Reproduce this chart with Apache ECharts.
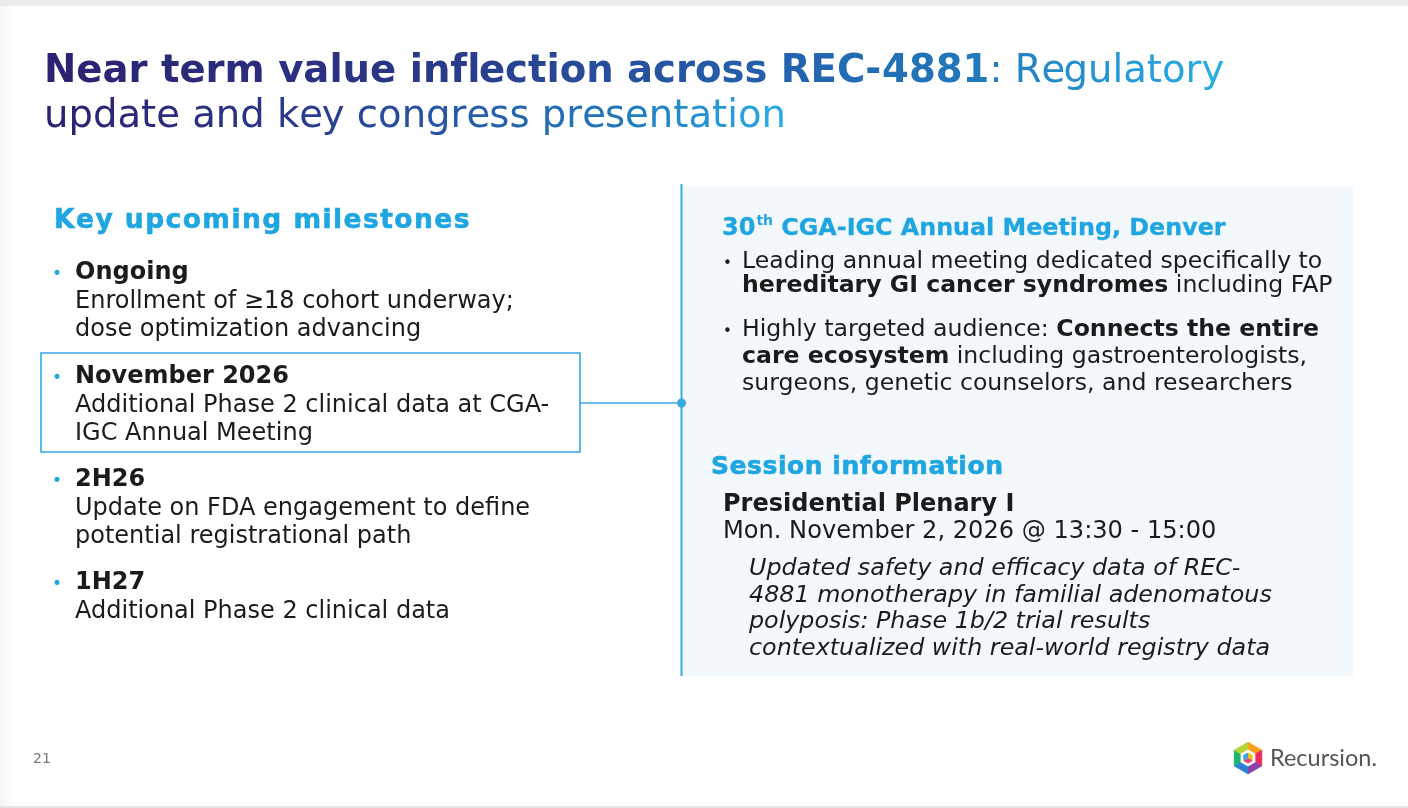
<!DOCTYPE html>
<html><head><meta charset="utf-8">
<script src="https://cdn.jsdelivr.net/npm/echarts@6/dist/echarts.min.js"></script>
<style>html,body{margin:0;padding:0;background:#fff}#c{width:1408px;height:808px}</style>
</head><body><div id="c"></div>
<script>
// ---------- content ----------
const titleLine1Bold = 'Near term value inflection across REC-4881';
const titleLine1Rest = ': Regulatory';
const titleLine2 = 'update and key congress presentation';
const leftHeader = 'Key upcoming milestones';
const milestoneDates = ['Ongoing', 'November 2026', '2H26', '1H27'];
const milestoneLines = [
  ['Enrollment of \u226518 cohort underway;', 'dose optimization advancing'],
  ['Additional Phase 2 clinical data at CGA-', 'IGC Annual Meeting'],
  ['Update on FDA engagement to define', 'potential registrational path'],
  ['Additional Phase 2 clinical data']
];
const meetingOrdinal = ['30', 'th'];
const meetingTitle = ' CGA-IGC Annual Meeting, Denver';
const meetingBullets = [
  [[{t:'Leading annual meeting dedicated specifically to'}],
   [{t:'hereditary GI cancer syndromes', w:'bold'}, {t:' including FAP'}]],
  [[{t:'Highly targeted audience: '}, {t:'Connects the entire', w:'bold'}],
   [{t:'care ecosystem', w:'bold'}, {t:' including gastroenterologists,'}],
   [{t:'surgeons, genetic counselors, and researchers'}]]
];
const sessionHeader = 'Session information';
const sessionName = 'Presidential Plenary I';
const sessionTime = 'Mon. November 2, 2026 @ 13:30 - 15:00';
const sessionAbstract = [
  'Updated safety and efficacy data of REC-',
  '4881 monotherapy in familial adenomatous',
  'polyposis: Phase 1b/2 trial results',
  'contextualized with real-world registry data'
];
const pageNumber = '21';
const brandName = 'Recursion.';

// ---------- helpers ----------
const FONT = '"DejaVu Sans", Verdana, sans-serif';
const BODY = '#1b1b1b';
const BLUE = '#1fa6e0';
const mctx = document.createElement('canvas').getContext('2d');
function fontStr(size, w, it, fam) { return (it ? 'italic ' : 'normal ') + (w || 'normal') + ' ' + size + 'px ' + (fam || FONT); }
function measure(t, size, w, it, fam) { mctx.font = fontStr(size, w, it, fam); return mctx.measureText(t).width; }
const els = [];
function txt(x, y, t, size, o) {
  o = o || {};
  const st = {text: t, fontSize: size, fontFamily: o.fam || FONT, fontWeight: o.w || 'normal',
      fontStyle: o.i ? 'italic' : 'normal', fill: o.c || BODY, verticalAlign: 'middle', align: 'left'};
  if (o.sw) { st.stroke = o.c || BODY; st.lineWidth = o.sw; }
  els.push({type: 'text', x: x, y: y, z: 10, silent: true, style: st});
}
function segs(x, y, parts, size, base) {
  let cx = x;
  parts.forEach(p => {
    const o = Object.assign({}, base || {}, p);
    txt(cx, y, p.t, size, o);
    cx += measure(p.t, size, o.w, o.i);
  });
  return cx;
}
function hex2rgb(h) { return [parseInt(h.substr(1,2),16), parseInt(h.substr(3,2),16), parseInt(h.substr(5,2),16)]; }
const stops = [[0,'#2a2270'],[0.3,'#2b3585'],[0.55,'#2658a6'],[0.78,'#2178bb'],[1,'#2aaee5']];
function gradColor(t) {
  t = Math.max(0, Math.min(1, t));
  for (let i = 1; i < stops.length; i++) {
    if (t <= stops[i][0]) {
      const a = stops[i-1], b = stops[i];
      const f = (t - a[0]) / (b[0] - a[0]);
      const ca = hex2rgb(a[1]), cb = hex2rgb(b[1]);
      return 'rgb(' + ca.map((v, k) => Math.round(v + (cb[k] - v) * f)).join(',') + ')';
    }
  }
  return stops[stops.length-1][1];
}
function gradLine(x, y, runs, size) {
  let total = 0;
  runs.forEach(r => total += measure(r.t, size, r.w));
  let off = 0;
  runs.forEach(r => {
    for (let i = 0; i < r.t.length; i++) {
      const px = measure(r.t.slice(0, i), size, r.w);
      const cw = measure(r.t[i], size, r.w);
      const cx = x + off + px;
      if (r.t[i] !== ' ') txt(cx, y, r.t[i], size, {w: r.w, c: gradColor((cx + cw / 2 - x) / total)});
    }
    off += measure(r.t, size, r.w);
  });
}
function spaced(x, y, str, size, targetW, o) {
  const natural = measure(str, size, o.w);
  const sp = (targetW - natural) / (str.length - 1);
  let cx = x;
  for (let i = 0; i < str.length; i++) {
    if (str[i] !== ' ') txt(cx, y, str[i], size, o);
    cx += measure(str[i], size, o.w) + sp;
  }
}

// ---------- background & frame ----------
els.push({type: 'rect', shape: {x: 0, y: 0, width: 1408, height: 6}, style: {fill: '#ececec'}, z: 1});
els.push({type: 'rect', shape: {x: 0, y: 806, width: 1408, height: 2}, style: {fill: '#e4e4e4'}, z: 1});
els.push({type: 'rect', shape: {x: 0, y: 6, width: 14, height: 800},
  style: {fill: new echarts.graphic.LinearGradient(0, 0, 1, 0, [{offset: 0, color: 'rgba(0,0,0,0.035)'}, {offset: 1, color: 'rgba(0,0,0,0)'}])}, z: 1});

// ---------- title ----------
gradLine(44, 72, [{t: titleLine1Bold, w: 'bold'}, {t: titleLine1Rest, w: 'normal'}], 38.6);
gradLine(44, 117, [{t: titleLine2, w: 'normal'}], 38.6);

// ---------- left column ----------
spaced(54, 221, leftHeader, 26.5, 415, {w: 'bold', c: BLUE, sw: 0.6});
const dateY = [273, 377, 480, 583];
const LH = 28.5;
const BS = 24;
milestoneDates.forEach((d, k) => {
  const y0 = dateY[k];
  txt(52, y0 + 2, '\u2022', 17, {c: BLUE});
  txt(75, y0, d, BS, {w: 'bold'});
  milestoneLines[k].forEach((ln, j) => txt(75, y0 + LH * (j + 1), ln, BS));
});
els.push({type: 'rect', shape: {x: 41, y: 353, width: 539, height: 99}, style: {fill: 'none', stroke: '#36a9e1', lineWidth: 1.6}, z: 5});
els.push({type: 'line', shape: {x1: 580, y1: 403, x2: 681, y2: 403}, style: {stroke: '#36a9e1', lineWidth: 1.6}, z: 5});
els.push({type: 'line', shape: {x1: 681.5, y1: 184, x2: 681.5, y2: 676}, style: {stroke: '#36a9e1', lineWidth: 2}, z: 6});
els.push({type: 'circle', shape: {cx: 681.5, cy: 403, r: 4.5}, style: {fill: '#36a9e1'}, z: 7});

// ---------- right panel ----------
els.push({type: 'rect', shape: {x: 683, y: 186, width: 670, height: 490}, style: {fill: '#f3f8fc'}, z: 2});
let cx = 722;
txt(cx, 229, meetingOrdinal[0], 24, {w: 'bold', c: BLUE, sw: 0.3});
cx += measure(meetingOrdinal[0], 24, 'bold');
txt(cx + 1, 221, meetingOrdinal[1], 14, {w: 'bold', c: BLUE});
cx += measure(meetingOrdinal[1], 14, 'bold') + 1;
txt(cx, 229, meetingTitle, 23.8, {w: 'bold', c: BLUE, sw: 0.3});

const bulletY = [[262, 286], [330, 357, 384]];
meetingBullets.forEach((b, k) => {
  txt(723, bulletY[k][0] + 2, '\u2022', 15, {c: BODY});
  b.forEach((ln, j) => segs(742, bulletY[k][j], ln, 23.6));
});
spaced(711, 467, sessionHeader, 25, 292, {w: 'bold', c: BLUE, sw: 0.6});
txt(723, 505, sessionName, BS, {w: 'bold'});
txt(723, 532, sessionTime, 24.1);
const absY = [569, 596, 622, 649];
sessionAbstract.forEach((ln, j) => txt(749, absY[j], ln, 23.8, {i: true}));

// ---------- footer ----------
txt(33, 759, pageNumber, 14, {c: '#7a7a7a'});
txt(1270, 758, brandName, 23.5, {c: '#555555', fam: 'Lato, "Open Sans", sans-serif'});
const LX = 1248, LY = 758, R = 16;
const segCols = ['#f7a21b', '#ec2a5b', '#8b3fa8', '#2c7fd4', '#1eb36a', '#b5d334'];
for (let i = 0; i < 6; i++) {
  const a1 = (-90 + 60 * i) * Math.PI / 180, a2 = (-30 + 60 * i) * Math.PI / 180;
  els.push({type: 'polygon', z: 8, shape: {points: [[LX, LY], [LX + R * Math.cos(a1), LY + R * Math.sin(a1)], [LX + R * Math.cos(a2), LY + R * Math.sin(a2)]]},
    style: {fill: segCols[i], stroke: segCols[i], lineWidth: 0.5}});
}
function hexPts(r) { const p = []; for (let i = 0; i < 6; i++) { const a = (-90 + 60 * i) * Math.PI / 180; p.push([LX + r * Math.cos(a), LY + r * Math.sin(a)]); } return p; }
els.push({type: 'polygon', z: 9, shape: {points: hexPts(8.5)}, style: {fill: '#ffffff'}});
const k5 = 5.5, kx = k5 * Math.cos(Math.PI / 6), ky = k5 / 2;
const cube = [['#f0c419', [[LX, LY], [LX, LY - k5], [LX + kx, LY - ky], [LX + kx, LY + ky]]],
              ['#e8446b', [[LX, LY], [LX + kx, LY + ky], [LX, LY + k5], [LX - kx, LY + ky]]],
              ['#3aa0dc', [[LX, LY], [LX - kx, LY + ky], [LX - kx, LY - ky], [LX, LY - k5]]]];
cube.forEach(c => els.push({type: 'polygon', z: 10, shape: {points: c[1]}, style: {fill: c[0]}}));

const chart = echarts.init(document.getElementById('c'), null, {renderer: 'canvas'});
chart.setOption({backgroundColor: '#ffffff', animation: false, graphic: {elements: els}});
</script>
</body></html>
